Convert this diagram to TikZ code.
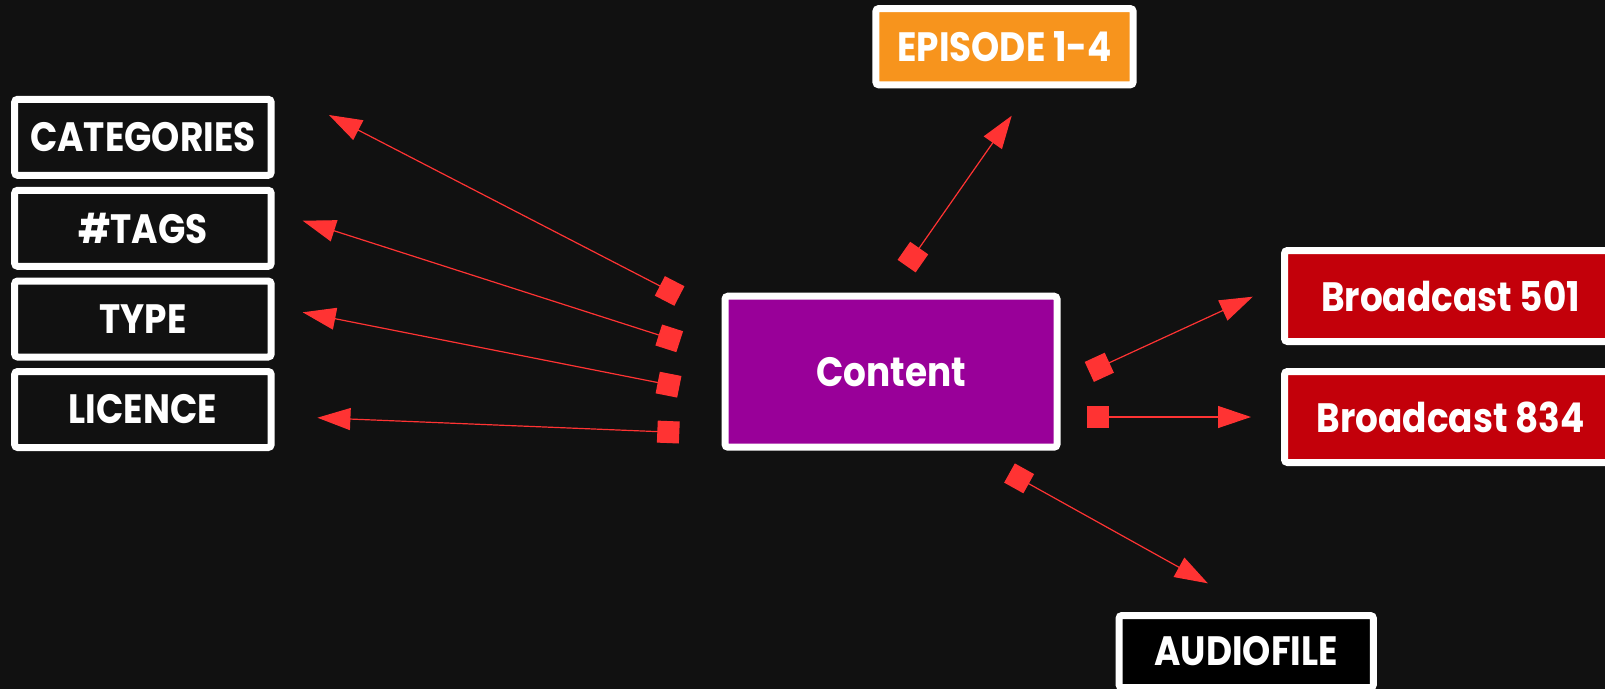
\documentclass[tikz,border=0pt]{standalone}
\usepackage{fontspec}
\newfontfamily\boxfont{Poppins}[FakeStretch=0.875]
\usetikzlibrary{arrows.meta}
\definecolor{bg}{HTML}{111111}
\definecolor{linkred}{HTML}{FF3333}
\definecolor{cpurple}{HTML}{990099}
\definecolor{corange}{HTML}{F7941D}
\definecolor{cred}{HTML}{C3000A}
\begin{document}
\begin{tikzpicture}[x=1pt,y=-1pt,
  box/.style={draw=white, line width=7pt, rounded corners=3pt, inner sep=0pt,
    text=white, font=\boxfont\bfseries\fontsize{41}{46}\selectfont},
  link/.style={draw=linkred, line width=1.2pt,
    {Square[length=22pt,width=22pt]}-{Triangle[length=33pt,width=22pt]}}]
\fill[bg] (0,0) rectangle (1605,689);
\useasboundingbox (0,0) rectangle (1605,689);
% nodes
\node[box, fill=bg, minimum width=256.5pt, minimum height=76pt] (cat) at (142.9,137.3) {CATEGORIES};
\node[box, fill=bg, minimum width=256.5pt, minimum height=76pt] (tags) at (142.9,228.3) {\#TAGS};
\node[box, fill=bg, minimum width=256.5pt, minimum height=76pt] (type) at (142.9,319) {TYPE};
\node[box, fill=bg, minimum width=256.5pt, minimum height=76pt] (lic) at (142.9,409.5) {LICENCE};
\node[box, fill=corange, minimum width=257.3pt, minimum height=76.3pt] (epi) at (1004.5,46.7) {EPISODE 1-4};
\node[box, fill=cpurple, minimum width=332pt, minimum height=151pt] (content) at (891,371.7) {Content};
\node[box, fill=cred, minimum width=332pt, minimum height=91pt] (b501) at (1450.5,296) {Broadcast 501};
\node[box, fill=cred, minimum width=332pt, minimum height=91pt] (b834) at (1450.5,417) {Broadcast 834};
\node[box, fill=black, minimum width=254.4pt, minimum height=72pt] (audio) at (1246.2,651.5) {AUDIOFILE};
% connector ends
\coordinate (s1) at (679.4,296);   \coordinate (t1) at (329,115);
\coordinate (s2) at (679.7,341.7); \coordinate (t2) at (302.7,220.7);
\coordinate (s3) at (679.3,386.8); \coordinate (t3) at (302.7,312.3);
\coordinate (s4) at (679.3,432.5); \coordinate (t4) at (317.4,417.7);
\coordinate (s5) at (906.6,266.1); \coordinate (t5) at (1011.7,115.7);
\coordinate (s6) at (1089.3,371.9); \coordinate (t6) at (1252.8,296.7);
\coordinate (s7) at (1086.6,417);  \coordinate (t7) at (1251,417);
\coordinate (s8) at (1009.5,473);  \coordinate (t8) at (1207.8,583.3);
\foreach \i in {1,...,8} { \draw[link] (s\i) -- (t\i); }
\end{tikzpicture}
\end{document}
